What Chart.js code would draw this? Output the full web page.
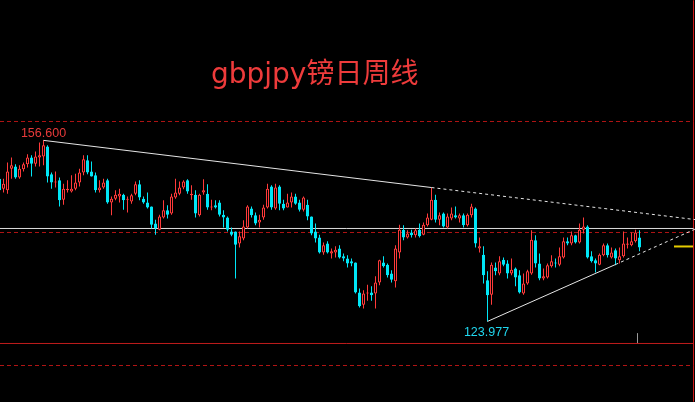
<!DOCTYPE html>
<html><head><meta charset="utf-8">
<script src="https://cdn.jsdelivr.net/npm/chart.js@4.4.0/dist/chart.umd.min.js"></script>
<style>html,body{margin:0;padding:0;background:#000;}canvas{display:block}</style>
</head><body>
<canvas id="c" width="695" height="402"></canvas>
<script>
// Weekly GBP/JPY candles (oldest first)
const opens = [149.7,147.9,147.6,151.5,151.9,149.9,151.4,152.3,153.5,152.4,153.5,153.7,155.5,150.5,149.0,149.4,145.9,147.6,147.4,147.9,149.0,150.8,153.0,151.0,150.3,147.6,148.1,149.4,145.4,146.1,146.5,146.8,145.9,145.6,147.0,148.7,146.1,145.4,144.7,141.6,140.5,142.7,144.0,143.4,146.3,147.0,148.1,149.4,146.7,146.8,143.1,147.2,147.0,144.5,144.9,145.4,143.2,142.7,140.2,140.2,138.0,138.9,140.9,144.3,143.1,141.8,142.7,144.5,148.3,144.3,148.3,145.2,144.5,145.4,146.5,145.4,144.1,145.0,142.9,140.2,139.1,136.4,138.0,136.2,136.4,137.1,135.7,135.3,134.8,134.6,129.2,127.0,129.0,129.2,129.0,131.0,134.6,134.2,132.6,131.2,136.4,140.5,139.1,140.0,139.5,140.5,139.6,141.3,142.3,145.9,142.3,143.4,140.9,142.5,143.1,142.5,143.1,141.3,143.1,144.3,137.1,136.0,131.4,128.8,133.7,132.6,135.1,134.4,132.6,133.5,132.3,129.0,130.8,132.6,138.6,134.4,131.7,131.9,133.9,134.6,134.2,135.5,138.4,138.0,139.5,138.2,140.5,141.1,135.7,135.0,134.2,135.9,137.7,135.5,136.8,135.0,135.7,137.8,137.7,138.4,139.1];
const highs = [150.1,149.7,152.6,153.5,152.3,152.1,152.6,154.1,153.9,154.6,156.2,156.6,155.7,150.8,151.0,149.9,148.8,149.4,150.3,150.6,151.5,153.9,153.9,152.8,150.8,149.4,149.7,149.7,146.5,147.6,147.9,147.0,146.5,147.0,149.2,149.4,146.5,147.2,144.7,142.3,143.2,145.8,144.9,147.0,149.7,149.2,149.4,149.6,148.5,147.6,147.0,149.6,148.7,145.9,145.8,145.8,144.0,142.9,140.9,140.2,140.2,142.2,144.9,144.7,143.6,143.2,145.0,148.8,148.5,148.8,148.5,145.9,147.0,147.2,147.0,145.9,146.5,145.9,142.9,141.6,139.6,138.2,138.4,137.1,137.5,137.7,136.2,135.9,135.3,134.6,129.9,129.6,130.6,130.3,132.1,135.1,135.7,134.4,133.2,137.7,141.4,141.3,140.4,140.5,140.7,141.6,141.8,143.4,148.1,146.8,143.6,143.6,143.4,144.5,144.7,143.4,143.4,143.4,145.2,144.5,139.1,137.5,133.0,134.6,134.6,135.7,135.5,135.0,135.3,133.7,133.2,132.6,133.3,140.4,139.5,136.2,133.5,134.4,135.9,135.3,137.3,139.1,139.1,140.2,139.6,141.6,142.7,141.3,136.6,135.3,136.2,138.0,138.0,137.3,137.1,137.3,140.2,139.1,140.0,140.5,140.4];
const lows = [147.2,147.2,147.0,149.7,149.7,149.7,151.0,151.7,150.1,151.9,151.9,152.1,149.0,147.9,148.1,144.7,145.0,147.2,147.2,147.6,148.3,150.3,150.5,150.1,147.2,147.2,147.9,145.2,143.1,145.8,145.4,144.1,143.6,145.2,146.7,145.8,145.2,144.3,140.7,139.6,140.4,142.5,142.5,143.2,146.1,146.7,147.8,147.0,145.9,142.7,142.9,146.8,144.1,144.0,144.3,142.9,140.9,140.2,139.3,131.7,137.3,138.6,140.7,142.7,141.3,140.9,142.3,144.3,144.1,144.1,144.0,144.0,144.5,144.5,145.0,143.8,143.8,142.2,139.5,138.2,136.2,136.0,136.2,135.3,135.5,135.3,134.8,133.7,133.9,129.0,126.5,126.3,127.7,127.7,126.3,130.5,133.7,131.9,131.0,130.1,135.3,138.6,138.9,139.1,139.1,139.1,139.5,141.1,142.2,141.8,141.3,140.9,140.7,142.2,142.5,141.8,140.9,141.1,142.7,137.3,136.4,130.8,123.977,127.0,132.3,132.3,133.9,131.7,132.3,130.3,129.0,128.8,130.6,132.4,133.7,131.4,131.4,131.7,133.7,133.7,133.9,135.3,137.7,137.7,138.0,138.0,139.8,135.3,134.6,132.8,134.1,135.7,135.5,135.3,134.1,134.4,135.5,137.1,137.5,138.2,136.6];
const closes = [147.6,148.8,151.0,152.1,149.9,151.5,152.3,153.5,152.4,153.7,153.9,155.7,150.1,149.0,149.2,145.8,147.9,147.9,147.9,149.0,150.8,153.2,150.8,150.1,147.6,148.1,149.0,145.4,146.1,146.8,147.0,145.8,146.1,146.7,148.7,146.3,145.4,144.5,141.4,140.7,142.9,144.0,143.2,146.5,147.2,148.1,149.2,147.4,147.0,143.4,146.8,147.6,144.5,144.7,144.5,143.2,142.7,140.5,139.6,137.8,139.3,141.1,144.7,143.1,141.6,142.3,144.5,147.9,144.5,148.1,145.2,144.3,145.4,146.5,145.2,144.1,146.3,142.9,139.8,138.9,136.4,137.7,136.4,136.6,136.9,135.5,135.3,134.4,134.4,129.2,126.7,129.0,129.2,128.7,131.0,135.0,133.9,132.3,131.5,137.1,140.5,139.1,139.8,139.5,140.4,139.3,141.4,142.7,145.9,142.3,143.1,141.1,142.9,143.4,142.7,143.1,141.3,143.2,144.7,138.0,137.5,132.3,128.7,134.2,133.0,134.8,134.2,132.6,133.3,131.9,129.2,130.8,133.0,138.7,134.4,131.7,132.1,134.1,134.8,134.4,135.7,138.4,138.0,139.5,138.2,140.5,141.1,135.5,134.8,134.4,136.0,137.7,135.9,136.4,135.3,135.7,138.0,138.0,138.4,140.0,137.3];

const titleText = 'gbpjpy镑日周线';
const peakLabel = '156.600', peakIndex = 11, peakPrice = 156.6;
const troughLabel = '123.977', troughIndex = 122, troughPrice = 123.977;
const dashedLevels = [160, 140, 116.03];
const lastPriceLevel = 140.72;
const baseLevel = 120;
const markerLevel = 137.48;
const upperTrendSolid = [[11, 156.6], [108, 148.1]];
const upperTrendDashed = [[108, 148.1], [173.875, 142.33]];
const lowerTrendSolid = [[122, 123.977], [154, 134.23]];
const lowerTrendDashed = [[154, 134.23], [173.875, 140.6]];
const tickMark = [[159.5, 121.8], [159.5, 120.0]];

const X_MIN = 0.125, X_MAX = 173.875, X_EDGE = 173.5;
const Y_MIN = 109.454, Y_MAX = 181.894;

const RED = '#ff3a3a', CYAN = '#00e6f6';
const idx = opens.map((_, i) => i);
const up = idx.map(i => closes[i] >= opens[i]);
const candleColor = idx.map(i => up[i] ? RED : CYAN);
const bodyFill = idx.map(i => up[i] ? '#000000' : CYAN);

function pts(arr){ return arr.map(p => ({x: p[0], y: p[1]})); }
function hline(level, color, dash, width){
  return {type:'line', data:[{x:X_MIN,y:level},{x:X_EDGE,y:level}], borderColor:color,
    borderWidth:width||1, borderDash:dash||[], pointRadius:0, fill:false, tension:0, order:4};
}
function seg(arr, color, dash, width, order){
  return {type:'line', data:pts(arr), borderColor:color, borderWidth:width||1,
    borderDash:dash||[], pointRadius:0, fill:false, tension:0, order:order||1, clip:false};
}

const datasets = [
  {type:'bar', data: idx.map(i => ({x:i, y:[lows[i], highs[i]]})), backgroundColor: candleColor,
   barThickness:1, grouped:false, order:3, minBarLength:1, inflateAmount:0, borderWidth:0},
  {type:'bar', data: idx.map(i => ({x:i, y:[opens[i], closes[i]]})), backgroundColor: bodyFill,
   borderColor: candleColor, borderWidth:1, borderSkipped:false, barThickness:3, grouped:false,
   order:2, minBarLength:1, inflateAmount:0},
  ...dashedLevels.map(l => hline(l, '#b01414', [4,3])),
  hline(baseLevel, '#c01c1c'),
  hline(lastPriceLevel, '#dcdcdc'),
  seg([[168.625, markerLevel],[173.375, markerLevel]], '#e6cc00', [], 2, 1),
  seg([[X_EDGE, Y_MIN + 0.05],[X_EDGE, Y_MAX - 0.05]], '#d01818', [], 1, 4),
  seg(tickMark, '#9a9a9a', [], 1, 4),
  seg(upperTrendSolid, '#e6e6e6'),
  seg(upperTrendDashed, '#e6e6e6', [3,3]),
  seg(lowerTrendSolid, '#e6e6e6'),
  seg(lowerTrendDashed, '#e6e6e6', [3,3])
];

const textPlugin = {
  id:'texts',
  afterDatasetsDraw(chart){
    const ctx = chart.ctx, xs = chart.scales.x, ys = chart.scales.y;
    ctx.save();
    ctx.font = '28px "DejaVu Sans", "Noto Sans CJK SC", sans-serif';
    ctx.fillStyle = '#ee3b3b';
    ctx.textAlign = 'left';
    ctx.textBaseline = 'alphabetic';
    ctx.fillText(titleText, 211, 83);
    ctx.font = '12.5px "Liberation Sans", Arial, sans-serif';
    ctx.textAlign = 'center';
    ctx.fillStyle = '#e83a3a';
    ctx.fillText(peakLabel, xs.getPixelForValue(peakIndex), ys.getPixelForValue(peakPrice) - 3);
    ctx.fillStyle = '#20d8f0';
    ctx.fillText(troughLabel, xs.getPixelForValue(troughIndex) - 1, ys.getPixelForValue(troughPrice) + 15);
    ctx.restore();
  }
};

new Chart(document.getElementById('c'), {
  type:'bar',
  data:{datasets},
  options:{
    responsive:false, animation:false, devicePixelRatio:1,
    layout:{padding:0},
    plugins:{legend:{display:false}, tooltip:{enabled:false}, title:{display:false}},
    scales:{
      x:{type:'linear', min:X_MIN, max:X_MAX, display:false, offset:false},
      y:{type:'linear', min:Y_MIN, max:Y_MAX, display:false}
    }
  },
  plugins:[textPlugin]
});
</script>
</body></html>
